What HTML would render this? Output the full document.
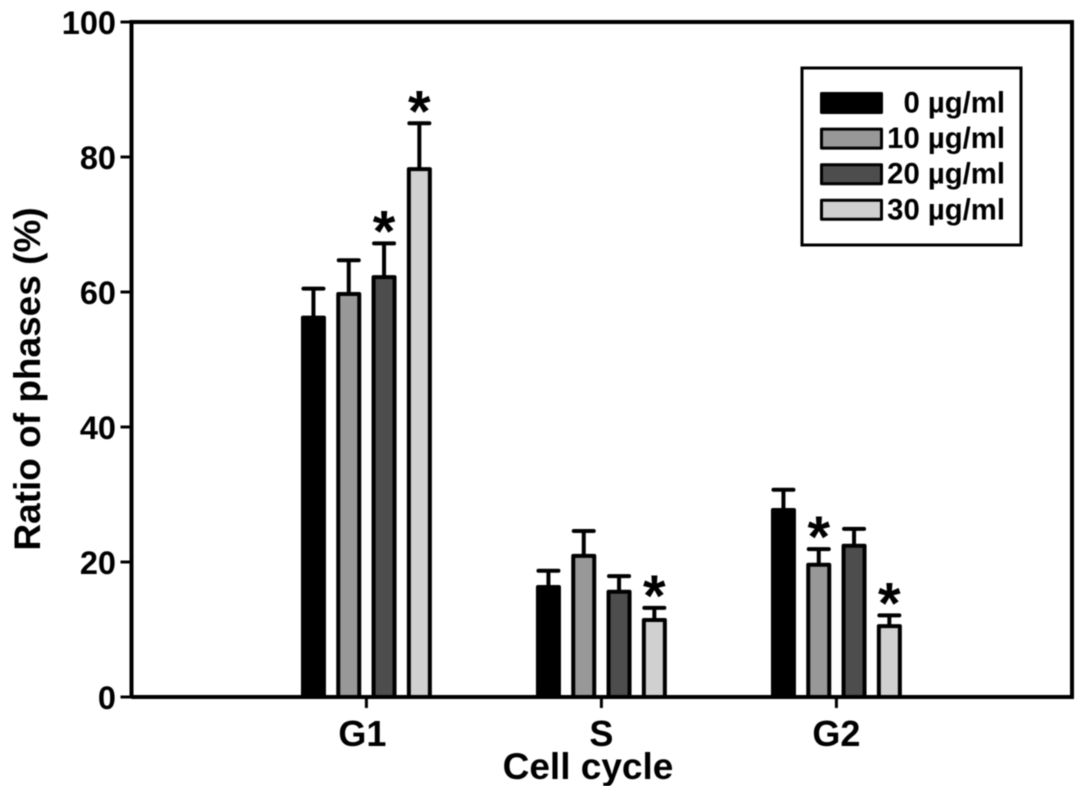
<!DOCTYPE html>
<html>
<head>
<meta charset="utf-8">
<title>Ratio of phases by cell cycle</title>
<style>
html,body{margin:0;padding:0;background:#fff;width:1087px;height:786px;overflow:hidden}
svg{display:block;filter:blur(0.4px)}
text{font-family:"Liberation Sans",Arial,sans-serif;font-weight:bold;fill:#000}
</style>
</head>
<body>
<svg id="chart" xmlns="http://www.w3.org/2000/svg" width="1087" height="786" viewBox="0 0 1087 786">
<rect x="0" y="0" width="1087" height="786" fill="#fff"/>
<g id="bars"></g>
<g id="axes"></g>
<text transform="translate(40,379) rotate(-90)" text-anchor="middle" font-size="37">Ratio of phases (%)</text>
<text x="588" y="779" text-anchor="middle" font-size="37">Cell cycle</text>
<g>
<rect x="802" y="68" width="219" height="177" fill="#fff" stroke="#000" stroke-width="3"/>
<g id="legend-items"></g>
</g>
</svg>
<script>
var categories = ['G1', 'S', 'G2'];
var seriesNames = ['0 µg/ml', '10 µg/ml', '20 µg/ml', '30 µg/ml'];
var seriesColors = ['#000000', '#989898', '#4d4d4d', '#d0d0d0'];
var values0 = [56.2, 16.3, 27.7];
var values10 = [59.7, 20.9, 19.6];
var values20 = [62.2, 15.6, 22.4];
var values30 = [78.2, 11.4, 10.5];
var errorTops0 = [60.5, 18.7, 30.7];
var errorTops10 = [64.7, 24.6, 21.9];
var errorTops20 = [67.2, 17.9, 24.9];
var errorTops30 = [85.0, 13.2, 12.1];
var significant0 = [false, false, false];
var significant10 = [false, false, true];
var significant20 = [true, false, false];
var significant30 = [true, true, true];
var yTicks = [0, 20, 40, 60, 80, 100];

var allValues = [values0, values10, values20, values30];
var allErrors = [errorTops0, errorTops10, errorTops20, errorTops30];
var allSignificant = [significant0, significant10, significant20, significant30];

var NS = 'http://www.w3.org/2000/svg';
var plotLeft = 131.5, plotRight = 1072, plotTop = 22, plotBottom = 697;
var yMax = 100;
var groupStart = 366.4, groupStep = 235, barStep = 35.3, barWidth = 21;

function yScale(v) { return plotBottom - (v / yMax) * (plotBottom - plotTop); }
function xScale(c, s) { return groupStart + c * groupStep + (s - 1.5) * barStep; }
function xCenter(c) { return groupStart + c * groupStep; }
function make(tag, attrs, parent) {
  var el = document.createElementNS(NS, tag);
  for (var k in attrs) { el.setAttribute(k, attrs[k]); }
  parent.appendChild(el);
  return el;
}

var barsG = document.getElementById('bars');
var axesG = document.getElementById('axes');
var legendG = document.getElementById('legend-items');

categories.forEach(function (cat, c) {
  allValues.forEach(function (vals, s) {
    var cx = xScale(c, s);
    var top = yScale(vals[c]);
    var errTop = yScale(allErrors[s][c]);

    var stem = make('line', { x1: cx, x2: cx, y1: top, y2: errTop, stroke: '#000', 'stroke-width': 4 }, barsG);
    
    

    var cap = make('line', { x1: cx - 10, x2: cx + 10, y1: errTop, y2: errTop, stroke: '#000', 'stroke-width': 4, 'stroke-linecap': 'round' }, barsG);
    
    

    var bar = make('rect', { x: cx - barWidth / 2, y: top, width: barWidth, height: plotBottom - top, fill: seriesColors[s], stroke: '#000', 'stroke-width': 4, 'stroke-linejoin': 'round' }, barsG);
    
    

    if (allSignificant[s][c]) {
      var star = make('text', { x: cx, y: errTop + 8, 'text-anchor': 'middle', 'font-size': 58 }, barsG);
      star.textContent = '*';
      
      
    }
  });

  var tick = make('line', { x1: xCenter(c), x2: xCenter(c), y1: plotBottom, y2: plotBottom + 11, stroke: '#000', 'stroke-width': 3 }, axesG);
  
  

  var label = make('text', { x: xCenter(c) - (c === 0 ? 4 : 0), y: 746, 'text-anchor': 'middle', 'font-size': 36 }, axesG);
  label.textContent = cat;
  
  
});

var frame = make('path', { d: 'M' + plotLeft + ' ' + plotBottom + 'V' + plotTop + 'H' + plotRight + 'V' + plotBottom + 'H' + plotLeft, fill: 'none', stroke: '#000', 'stroke-width': 4 }, axesG);



yTicks.forEach(function (t) {
  var y = yScale(t);
  var tick = make('line', { x1: plotLeft - 11, x2: plotLeft, y1: y, y2: y, stroke: '#000', 'stroke-width': 3 }, axesG);
  
  

  var label = make('text', { x: 116, y: y + 12, 'text-anchor': 'end', 'font-size': 32.5 }, axesG);
  label.textContent = String(t);
  
  
});

seriesNames.forEach(function (name, s) {
  var y = 92 + s * 35.6;
  var swatch = make('rect', { x: 821.5, y: y + 1.5, width: 60, height: 19, fill: seriesColors[s], stroke: '#000', 'stroke-width': 3, 'stroke-linejoin': 'round' }, legendG);
  
  

  var text = make('text', { x: 1005, y: y + 20.5, 'text-anchor': 'end', 'font-size': 29.3 }, legendG);
  text.textContent = name;
  
  
});
</script>
</body>
</html>
